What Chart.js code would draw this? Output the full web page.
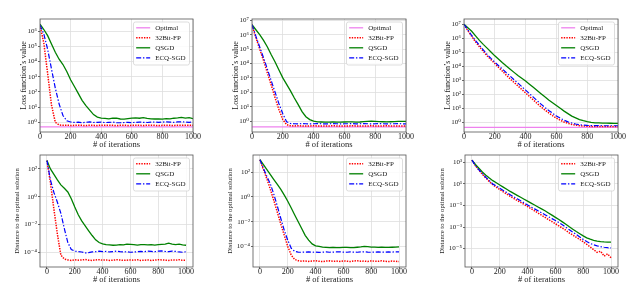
<!DOCTYPE html>
<html>
<head>
<meta charset="utf-8">
<script src="https://cdn.jsdelivr.net/npm/chart.js@4.4.0/dist/chart.umd.min.js"></script>
<style>
html, body { margin: 0; padding: 0; background: #fff; }
body { width: 640px; height: 282px; position: relative; overflow: hidden; }
canvas { position: absolute; }
</style>
</head>
<body>
<canvas id="p1"></canvas>
<canvas id="p2"></canvas>
<canvas id="p3"></canvas>
<canvas id="p4"></canvas>
<canvas id="p5"></canvas>
<canvas id="p6"></canvas>
<script>
// iterations shared by every curve
const iters = [0, 25, 50, 75, 100, 125, 150, 175, 200, 225, 250, 275, 300, 325, 350, 375, 400, 425, 450, 475,
  500, 525, 550, 575, 600, 625, 650, 675, 700, 725, 750, 775, 800, 825, 850, 875, 900, 925, 950, 975, 1000];
const xTicks = [0, 200, 400, 600, 800, 1000];

// top row: loss function's value
const optimalLoss = [0.5, 0.4, 0.44];

const loss1Fp = [2.5e6, 1.6e5, 1.6e3, 14, 1.0, 0.66,
  0.63, 0.64, 0.62, 0.63, 0.65, 0.63, 0.62, 0.64, 0.63, 0.62, 0.64, 0.63, 0.65, 0.63, 0.62, 0.63, 0.64, 0.62,
  0.63, 0.64, 0.63, 0.62, 0.64, 0.65, 0.63, 0.62, 0.63, 0.64, 0.63, 0.62, 0.64, 0.63, 0.65, 0.64, 0.63];
const loss1Qsgd = [2.8e6, 1.26e6, 5e5, 1.4e5, 4e4, 1.4e4, 6.3e3, 2.2e3, 630, 224, 79, 28, 12.6, 6.3, 3.2, 2.2, 1.9,
  1.8, 1.7, 1.9, 1.85, 1.65, 1.6, 1.75, 1.9, 1.95, 1.85, 2.0, 1.8, 1.7, 1.65, 1.7, 1.6, 1.75, 1.7, 1.85, 1.95,
  2.1, 1.9, 2.0, 1.75];
const loss1Ecq = [2.5e6, 6.3e5, 6.3e4, 3.2e3, 178, 15.8, 2.8, 1.26, 1.05,
  0.98, 1.02, 0.95, 1.0, 1.05, 0.97, 1.0, 1.03, 0.96, 0.99, 1.02, 0.95, 0.93, 0.97, 1.0, 0.96, 0.99, 1.03,
  1.0, 0.97, 1.02, 1.05, 0.99, 1.03, 1.07, 1.02, 1.0, 1.05, 1.08, 1.03, 1.0, 1.04];

const loss2Fp = [5e6, 6.3e5, 1e5, 1.6e4, 2.2e3, 316, 40, 6.3, 1.26, 0.56, 0.47,
  0.46, 0.47, 0.46, 0.45, 0.46, 0.47, 0.46, 0.46, 0.45, 0.46, 0.47, 0.46, 0.45, 0.46, 0.46, 0.47, 0.46, 0.45,
  0.46, 0.46, 0.47, 0.46, 0.45, 0.46, 0.47, 0.46, 0.46, 0.45, 0.46, 0.46];
const loss2Qsgd = [5e6, 2.2e6, 1e6, 4e5, 1.4e5, 4e4, 1.26e4, 3.5e3, 1e3, 355, 126, 40, 14, 4.5, 2.0, 1.26, 1.0, 0.89,
  0.86, 0.84, 0.85, 0.87, 0.85, 0.84, 0.86, 0.88, 0.87, 0.85, 0.86, 0.9, 0.95, 0.98, 0.96, 0.92, 0.9, 0.88,
  0.9, 0.92, 0.94, 0.95, 0.96];
const loss2Ecq = [5e6, 8e5, 1.4e5, 2.5e4, 4e3, 630, 100, 16, 3.2, 0.89, 0.68,
  0.65, 0.64, 0.66, 0.65, 0.64, 0.65, 0.66, 0.65, 0.64, 0.65, 0.66, 0.65, 0.64, 0.65, 0.65, 0.66, 0.64, 0.65,
  0.66, 0.65, 0.64, 0.65, 0.66, 0.65, 0.64, 0.65, 0.65, 0.66, 0.65, 0.64];

const loss3Fp = [1e7, 3.5e6, 1.4e6, 5.6e5, 2.5e5, 1.2e5, 5.6e4, 3e4, 1.6e4, 8.3e3, 4.5e3, 2.3e3, 1.26e3, 710, 400,
  224, 126, 71, 40, 22, 12.6, 7.6, 4.8, 3.0, 2.0, 1.41, 1.05, 0.85, 0.71, 0.63, 0.58, 0.55, 0.52, 0.51, 0.51,
  0.5, 0.5, 0.5, 0.5, 0.5, 0.5];
const loss3Qsgd = [1e7, 5.6e6, 3.2e6, 1.5e6, 7.1e5, 3.7e5, 2e5, 1.05e5, 5.6e4, 3.2e4, 1.8e4, 1.05e4, 6.3e3, 3.7e3,
  2.2e3, 1.4e3, 890, 525, 316, 186, 112, 66, 40, 25, 15.8, 10, 6.3, 4.2, 2.8, 2.1, 1.58, 1.32, 1.12, 1.0,
  0.93, 0.9, 0.88, 0.87, 0.86, 0.85, 0.85];
const loss3Ecq = [1e7, 4e6, 1.6e6, 6.8e5, 3.2e5, 1.5e5, 7.1e4, 3.7e4, 2e4, 1.1e4, 6.3e3, 3.5e3, 2e3, 1.1e3, 630,
  355, 200, 112, 63, 35, 20, 11.7, 7.1, 4.5, 2.8, 2.0, 1.41, 1.07, 0.89, 0.76, 0.68, 0.63, 0.6, 0.59, 0.58,
  0.58, 0.57, 0.57, 0.57, 0.57, 0.57];

// bottom row: distance to the optimal solution
const dist1Fp = [400, 10, 0.126, 2e-3, 6.3e-5, 3.2e-5,
  2.8e-5, 2.6e-5, 2.9e-5, 2.7e-5, 2.8e-5, 3.0e-5, 2.7e-5, 2.6e-5, 2.8e-5, 2.9e-5, 2.7e-5, 2.8e-5, 2.6e-5,
  2.7e-5, 2.9e-5, 2.8e-5, 2.6e-5, 2.7e-5, 2.8e-5, 2.7e-5, 2.9e-5, 2.6e-5, 2.7e-5, 2.8e-5, 2.6e-5, 2.7e-5,
  2.9e-5, 2.8e-5, 2.7e-5, 2.6e-5, 2.8e-5, 2.7e-5, 2.9e-5, 2.6e-5, 2.7e-5];
const dist1Qsgd = [400, 100, 40, 16, 7.1, 4, 2.2, 0.71, 0.18, 0.05, 0.018, 7.9e-3, 3.5e-3, 1.6e-3, 7.9e-4, 5e-4,
  4e-4, 3.5e-4,
  3.4e-4, 3.2e-4, 3.3e-4, 3.6e-4, 3.4e-4, 3.8e-4, 3.7e-4, 3.5e-4, 3.3e-4, 3.6e-4, 3.5e-4, 3.4e-4, 3.6e-4,
  3.3e-4, 3.5e-4, 3.7e-4, 3.9e-4, 4.5e-4, 3.9e-4, 3.6e-4, 3.8e-4, 3.4e-4, 3.2e-4];
const dist1Ecq = [400, 16, 2.0, 0.4, 0.063, 5e-3, 5e-4, 1.6e-4, 1.2e-4,
  1.1e-4, 1.05e-4, 0.9e-4, 0.95e-4, 1.05e-4, 1.1e-4, 1.2e-4, 1.1e-4, 1.15e-4, 1.05e-4, 1.1e-4, 1.2e-4, 1.1e-4,
  1.05e-4, 1.1e-4, 1.0e-4, 1.05e-4, 1.1e-4, 1.15e-4, 1.1e-4, 1.2e-4, 1.15e-4, 1.1e-4, 1.2e-4, 1.25e-4,
  1.15e-4, 1.1e-4, 1.2e-4, 1.15e-4, 1.05e-4, 1.0e-4, 1.1e-4];

const dist2Fp = [1000, 160, 28, 4, 0.5, 0.056, 6.3e-3, 7.9e-4, 1e-4, 2e-5, 8.9e-6, 7.1e-6,
  6.5e-6, 6.8e-6, 6.2e-6, 6.6e-6, 7.0e-6, 6.4e-6, 6.1e-6, 6.6e-6, 6.9e-6, 6.3e-6, 6.6e-6, 6.2e-6, 6.8e-6,
  6.5e-6, 6.1e-6, 6.7e-6, 7.0e-6, 6.4e-6, 6.6e-6, 6.2e-6, 6.8e-6, 6.5e-6, 6.3e-6, 6.9e-6, 6.4e-6, 6.1e-6,
  6.6e-6, 6.3e-6, 6.0e-6];
const dist2Qsgd = [1000, 400, 160, 63, 25, 10, 4, 1.4, 0.45, 0.126, 0.035, 0.01, 2.8e-3, 7.9e-4, 3.2e-4, 1.6e-4,
  1.12e-4, 1e-4, 8.9e-5,
  8.5e-5, 8.2e-5, 8.4e-5, 8.1e-5, 8.0e-5, 8.3e-5, 8.5e-5, 8.2e-5, 8.0e-5, 8.6e-5, 9.2e-5, 1.0e-4, 9.6e-5,
  9.0e-5, 8.7e-5, 8.4e-5, 8.8e-5, 8.5e-5, 8.3e-5, 8.6e-5, 9.0e-5, 9.3e-5];
const dist2Ecq = [1000, 200, 45, 11, 1.6, 0.18, 0.018, 2e-3, 3.2e-4, 7.1e-5, 4e-5, 3.5e-5,
  3.4e-5, 3.5e-5, 3.6e-5, 3.4e-5, 3.5e-5, 3.3e-5, 3.5e-5, 3.6e-5, 3.4e-5, 3.5e-5, 3.6e-5, 3.7e-5, 3.5e-5,
  3.4e-5, 3.6e-5, 3.5e-5, 3.4e-5, 3.6e-5, 3.7e-5, 3.5e-5, 3.4e-5, 3.5e-5, 3.6e-5, 3.5e-5, 3.4e-5, 3.6e-5,
  3.5e-5, 3.7e-5, 3.6e-5];

const dist3Fp = [1.6e3, 500, 190, 79, 35, 16.6, 8.3, 5.0, 3.0, 1.86, 1.15, 0.71, 0.45, 0.29, 0.19, 0.126, 0.079,
  0.05, 0.032, 0.02, 0.0126, 7.9e-3, 5e-3, 3.2e-3, 2e-3, 1.26e-3, 7.9e-4, 5e-4, 2.8e-4, 1.8e-4, 1.12e-4,
  7.1e-5, 4.2e-5, 2.5e-5, 1.4e-5, 7.9e-6, 4.5e-6, 5.6e-6, 2e-6, 3.2e-6, 1.4e-6];
const dist3Qsgd = [1.6e3, 630, 280, 126, 63, 35, 20, 12.6, 7.9, 5.0, 3.2, 2.0, 1.32, 0.87, 0.58, 0.38, 0.25, 0.166,
  0.11, 0.072, 0.048, 0.032, 0.02, 0.0126, 7.9e-3, 5e-3, 3e-3, 1.8e-3, 1.05e-3, 6.3e-4, 3.8e-4, 2.4e-4, 1.5e-4,
  1e-4, 7.4e-5, 5.9e-5, 5e-5, 4.5e-5, 4.2e-5, 4e-5, 3.9e-5];
const dist3Ecq = [1.6e3, 500, 200, 89, 40, 20, 10, 6.3, 4.0, 2.5, 1.58, 1.0, 0.63, 0.42, 0.27, 0.17, 0.11, 0.072,
  0.048, 0.032, 0.021, 0.0138, 9.1e-3, 6e-3, 4e-3, 2.6e-3, 1.6e-3, 9.5e-4, 5.6e-4, 3.3e-4, 2e-4, 1.2e-4,
  7.1e-5, 4.5e-5, 3e-5, 2.2e-5, 1.8e-5, 1.5e-5, 1.32e-5, 1.2e-5, 1.15e-5];

const lossTicks6 = [1, 10, 100, 1e3, 1e4, 1e5, 1e6];
const lossTicks7 = [1, 10, 100, 1e3, 1e4, 1e5, 1e6, 1e7];
const distTicks = [1e-4, 1e-2, 1, 100];
const distTicks3 = [1e-5, 1e-3, 1e-1, 10, 1e3];

Chart.defaults.font.family = '"Liberation Serif", "DejaVu Serif", serif';
Chart.defaults.color = '#222';

const SUP = { '-': '\u207b', '0': '\u2070', '1': '\u00b9', '2': '\u00b2', '3': '\u00b3', '4': '\u2074',
  '5': '\u2075', '6': '\u2076', '7': '\u2077', '8': '\u2078', '9': '\u2079' };
const pow10 = v => '10' + String(Math.round(Math.log10(v))).split('').map(c => SUP[c]).join('');

// frame round the plot and a matplotlib-like legend inside it
const frameLegend = {
  id: 'frameLegend',
  afterDatasetsDraw(chart) {
    const { ctx, chartArea: a } = chart;
    const sets = chart.data.datasets;
    ctx.save();
    ctx.strokeStyle = '#555';
    ctx.lineWidth = 0.8;
    ctx.strokeRect(a.left, a.top, a.right - a.left, a.bottom - a.top);

    ctx.font = '7px "Liberation Serif", "DejaVu Serif", serif';
    const tw = Math.max(...sets.map(d => ctx.measureText(d.label).width));
    const rowH = 10;
    const w = 2.7 + 14 + 5 + tw + 4;
    const h = sets.length * rowH + 3;
    const x = a.right - 3.5 - w, y = a.top + 3;
    ctx.beginPath();
    ctx.roundRect(x, y, w, h, 2);
    ctx.fillStyle = 'rgba(255,255,255,0.85)';
    ctx.fill();
    ctx.strokeStyle = '#d4d4d4';
    ctx.stroke();
    sets.forEach((d, i) => {
      const cy = y + 5.8 + i * rowH;
      ctx.beginPath();
      ctx.setLineDash(d.borderDash || []);
      ctx.strokeStyle = d.borderColor;
      ctx.lineWidth = d.borderWidth;
      ctx.moveTo(x + 2.7, cy);
      ctx.lineTo(x + 16.7, cy);
      ctx.stroke();
      ctx.setLineDash([]);
      ctx.fillStyle = '#222';
      ctx.textBaseline = 'middle';
      ctx.fillText(d.label, x + 21.7, cy);
    });
    ctx.restore();
  }
};

const pts = arr => iters.map((x, i) => ({ x, y: arr[i] }));
const line = (label, data, color, width, dash, order) =>
  ({ label, data, borderColor: color, borderWidth: width, borderDash: dash, pointRadius: 0, fill: false, order });

function seriesSet(fp, qsgd, ecq, opt) {
  const sets = [];
  if (opt !== undefined) sets.push(line('Optimal', [{ x: 0, y: opt }, { x: 1000, y: opt }], '#ee82ee', 1.3, [], 3));
  sets.push(line('32Bit-FP', pts(fp), '#ff0000', 1.5, [1.4, 1.2], 2));
  sets.push(line('QSGD', pts(qsgd), '#008000', 1.3, [], 1));
  sets.push(line('ECQ-SGD', pts(ecq), '#0000ff', 1.2, [5, 1.8, 1.4, 1.8], 0));
  return sets;
}

const panels = [
  { id: 'p1', box: [40, 19, 193, 132], sets: seriesSet(loss1Fp, loss1Qsgd, loss1Ecq, optimalLoss[0]),
    y: [0.23, 6.2e6], yTicks: lossTicks6, x: [0, 1000], title: "Loss function\u2019s value", tf: 8, tp: 20 },
  { id: 'p2', box: [252, 19, 406, 132], sets: seriesSet(loss2Fp, loss2Qsgd, loss2Ecq, optimalLoss[1]),
    y: [0.174, 1.23e7], yTicks: lossTicks7, x: [0, 1000], title: "Loss function\u2019s value", tf: 8, tp: 20 },
  { id: 'p3', box: [464, 19, 618, 132], sets: seriesSet(loss3Fp, loss3Qsgd, loss3Ecq, optimalLoss[2]),
    y: [0.204, 2.4e7], yTicks: lossTicks7, x: [0, 1000], title: "Loss function\u2019s value", tf: 8, tp: 20 },
  { id: 'p4', box: [40, 155, 193, 267], sets: seriesSet(dist1Fp, dist1Qsgd, dist1Ecq),
    y: [8.7e-6, 1000], yTicks: distTicks, x: [-50, 1050], title: 'Distance to the optimal solution', tf: 6.7, tp: 14.3 },
  { id: 'p5', box: [253, 155, 406, 267], sets: seriesSet(dist2Fp, dist2Qsgd, dist2Ecq),
    y: [2.2e-6, 2.4e3], yTicks: distTicks, x: [-50, 1050], title: 'Distance to the optimal solution', tf: 6.7, tp: 13.7 },
  { id: 'p6', box: [465, 155, 618, 267], sets: seriesSet(dist3Fp, dist3Qsgd, dist3Ecq),
    y: [1.95e-7, 4.8e3], yTicks: distTicks3, x: [-50, 1050], title: 'Distance to the optimal solution', tf: 6.7, tp: 14 },
];

const AXW = 40, AXH = 17, PADT = 6, PADR = 10;

for (const p of panels) {
  const [L, T, R, B] = p.box;
  const cv = document.getElementById(p.id);
  cv.width = (R - L) + AXW + PADR;
  cv.height = (B - T) + PADT + AXH;
  cv.style.left = (L - AXW) + 'px';
  cv.style.top = (T - PADT) + 'px';
  const grid = { color: '#dedede', lineWidth: 0.8, tickLength: 2, tickColor: '#444', tickWidth: 0.8 };
  new Chart(cv, {
    type: 'line',
    data: { datasets: p.sets },
    options: {
      responsive: false,
      animation: false,
      devicePixelRatio: 1,
      layout: { padding: { left: 0, top: PADT, right: PADR, bottom: 0 } },
      plugins: { legend: { display: false }, tooltip: { enabled: false } },
      scales: {
        x: {
          type: 'linear', min: p.x[0], max: p.x[1],
          afterBuildTicks: s => { s.ticks = xTicks.map(v => ({ value: v })); },
          afterFit: s => { s.height = AXH; },
          ticks: { font: { size: 8, lineHeight: 0.8 }, padding: 0, maxRotation: 0, autoSkip: false, callback: v => String(v) },
          grid, border: { display: false },
          title: { display: true, text: '# of iterations', font: { size: 8.5, lineHeight: 1 }, padding: { top: 0, bottom: 0 } }
        },
        y: {
          type: 'logarithmic', min: p.y[0], max: p.y[1],
          afterBuildTicks: s => { s.ticks = p.yTicks.map(v => ({ value: v })); },
          afterFit: s => { s.width = AXW; },
          ticks: { font: { size: 7 }, padding: 1, autoSkip: false, callback: v => pow10(v) },
          grid, border: { display: false },
          title: { display: true, text: p.title, font: { size: p.tf, lineHeight: 1 }, padding: { top: p.tp, bottom: 0 } }
        }
      }
    },
    plugins: [frameLegend]
  });
}
</script>
</body>
</html>
